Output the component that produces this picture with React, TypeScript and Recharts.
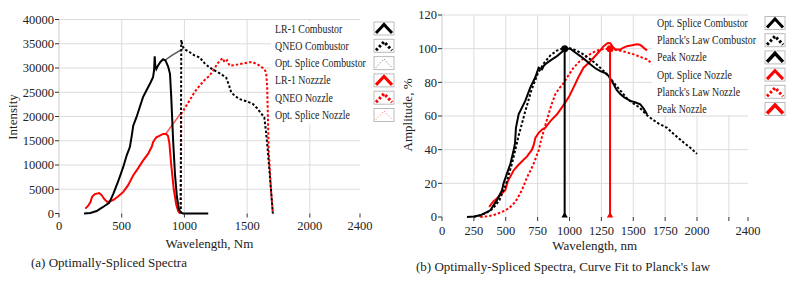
import React from 'react';
import { LineChart, Line, XAxis, YAxis, ReferenceLine } from 'recharts';

const FONT = "'Liberation Serif', 'Times New Roman', serif";
const TXT = '#222';
const GRID = '#dcdcdc';

// ---------- Chart (a): Optimally-Spliced Spectra ----------
const aXTicks = [0, 500, 1000, 1500, 2000, 2400];
const aYTicks = [0, 5000, 10000, 15000, 20000, 25000, 30000, 35000, 40000];
const aXGrid = [500, 1000, 1500, 2000];
const aYGrid = [5000, 10000, 15000, 20000, 25000, 30000, 35000, 40000];

const lr1Combustor = [
  [200, 0], [250, 100], [300, 500], [330, 1000], [360, 1500], [400, 2200], [432, 4000], [470, 6500],
  [511, 9500], [540, 12000], [565, 13700], [580, 16000], [592, 18100], [617, 19800], [645, 22000],
  [670, 24000], [700, 25500], [730, 27000], [750, 28100], [758, 29500], [763, 32400], [768, 30500],
  [776, 29800], [790, 30500], [810, 31300], [830, 31800], [850, 31500], [870, 30300], [885, 28800],
  [895, 24000], [910, 15000], [925, 8000], [940, 3500], [955, 1000], [970, 200], [990, 0], [1190, 0],
];
const qneoCombustor = [
  [970, 0], [975, 35800], [985, 34500], [1000, 33900], [1040, 33300], [1080, 32600], [1121, 32200],
  [1160, 31000], [1200, 30100], [1260, 29200], [1300, 28600], [1333, 28000], [1355, 26500],
  [1373, 25000], [1400, 24300], [1439, 23600], [1500, 23100], [1545, 22600], [1580, 21700],
  [1610, 20700], [1637, 19800], [1650, 17000], [1665, 13000], [1690, 5000], [1705, 0],
];
const optSpliceCombustorA = [[845, 31600], [900, 32600], [990, 34000]];
const lr1Nozzle = [
  [210, 1000], [230, 1500], [250, 2300], [265, 3500], [286, 4000], [320, 4200], [340, 3800],
  [360, 3000], [385, 2400], [410, 2500], [440, 2900], [470, 3500], [511, 4400], [550, 5800],
  [590, 7800], [630, 9300], [670, 10900], [710, 12300], [740, 13800], [750, 14700], [765, 15300],
  [776, 15700], [800, 16000], [830, 16400], [855, 16400], [869, 16000], [880, 14500], [895, 10000],
  [915, 5000], [935, 1800], [950, 500], [965, 0],
];
const qneoNozzle = [
  [970, 0], [975, 20500], [1000, 21600], [1041, 23300], [1080, 25000], [1121, 26350], [1160, 27500],
  [1200, 28400], [1230, 29500], [1254, 30500], [1280, 31500], [1306, 32000], [1320, 31200],
  [1340, 31600], [1360, 30500], [1400, 30600], [1439, 30800], [1480, 31000], [1520, 31200],
  [1545, 31200], [1570, 30900], [1598, 30500], [1637, 29800], [1652, 29000], [1660, 26000],
  [1672, 13000], [1690, 5000], [1705, 0],
];
const optSpliceNozzleA = [[850, 16400], [910, 18500], [975, 20800]];

// ---------- Chart (b): Curve fit to Planck's law ----------
const bXTicks = [0, 250, 500, 750, 1000, 1250, 1500, 1750, 2000, 2250, 2400];
const bYTicks = [0, 20, 40, 60, 80, 100, 120];
const bXGrid = [250, 500, 750, 1000, 1250, 1500, 1750, 2000, 2250];
const bYGrid = [20, 40, 60, 80, 100, 120];

const optSpliceCombustorB = [
  [196, 0], [250, 0.3], [300, 1], [340, 2.5], [379, 4], [431, 10], [470, 15.8], [483, 20], [510, 26],
  [536, 31.5], [560, 39], [573, 44], [580, 53], [601, 61], [653, 69], [693, 77], [732, 83],
  [758, 88.7], [784, 87.7], [800, 90], [824, 91.6], [860, 93.5], [902, 95.6], [940, 98], [967, 100],
  [1006, 100], [1040, 98], [1085, 95.6], [1120, 93.5], [1163, 90.7], [1200, 88.5], [1242, 86.7],
  [1280, 85.5], [1307, 83.8], [1330, 81], [1346, 78.9], [1370, 75.5], [1398, 73], [1430, 71],
  [1477, 69], [1520, 68], [1555, 67], [1580, 64.5], [1608, 61],
];
const planckCombustor = [
  [250, 0], [300, 1], [350, 2.5], [400, 5], [450, 10], [500, 19], [550, 32], [600, 48], [650, 62],
  [700, 75], [750, 85], [800, 91.5], [850, 96], [900, 98.8], [960, 100.5], [1000, 100.3],
  [1050, 99], [1100, 97], [1150, 94.5], [1200, 91.5], [1250, 88], [1300, 84.5], [1350, 79.5],
  [1400, 75], [1450, 70.5], [1500, 67.5], [1550, 65], [1600, 61], [1650, 58], [1700, 55.5],
  [1765, 53], [1817, 49.3], [1895, 44.3], [1950, 41], [2000, 37.5],
];
const peakCombustor = [[962, 0], [962, 100]];
const optSpliceNozzleB = [
  [370, 6], [400, 9], [430, 11], [457, 13], [497, 16], [515, 21], [536, 24], [560, 27.5], [588, 30],
  [620, 32.5], [667, 36], [706, 40], [720, 43], [732, 47], [758, 50], [785, 52], [810, 53],
  [850, 57], [902, 61], [935, 64.5], [967, 68], [1000, 72], [1032, 77], [1070, 83], [1110, 88.7],
  [1150, 91.5], [1189, 94.6], [1230, 98], [1268, 101.5], [1300, 103.4], [1320, 103.2], [1340, 101],
  [1359, 99.5], [1398, 99.5], [1420, 100.5], [1451, 101.5], [1490, 102], [1529, 102.6],
  [1550, 102.4], [1568, 101.5], [1590, 100], [1608, 99],
];
const planckNozzle = [
  [300, 0], [353, 0.4], [400, 1], [457, 2.6], [500, 4], [536, 6], [575, 9], [614, 14], [640, 18.5],
  [667, 23.6], [693, 27.5], [718, 31.5], [740, 36], [758, 39.4], [775, 45], [800, 52], [836, 61],
  [860, 67], [889, 73], [920, 76.5], [954, 79.5], [990, 84], [1032, 88.7], [1080, 92.5],
  [1137, 95.6], [1190, 98], [1242, 99.5], [1300, 100], [1350, 99.6], [1400, 98.8], [1450, 97.8],
  [1503, 96.6], [1550, 95.3], [1608, 93.6], [1650, 91], [1700, 88],
];
const peakNozzle = [[1318, 0], [1318, 100]];

const legendA = [
  { label: 'LR-1 Combustor', color: '#000', dash: '', w: 3 },
  { label: 'QNEO Combustor', color: '#000', dash: '2.5 2', w: 3 },
  { label: 'Opt. Splice Combustor', color: '#555', dash: '1 2', w: 1 },
  { label: 'LR-1 Nozzzle', color: '#f00', dash: '', w: 3 },
  { label: 'QNEO Nozzle', color: '#f00', dash: '2.5 2', w: 3 },
  { label: 'Opt. Splice Nozzle', color: '#f66', dash: '1 2', w: 1 },
];
const legendB = [
  { label: 'Opt. Splice Combustor', color: '#000', dash: '', w: 3 },
  { label: "Planck's Law Combustor", color: '#000', dash: '2.5 2', w: 3 },
  { label: 'Peak Nozzle', color: '#000', dash: '', w: 3.5 },
  { label: 'Opt. Splice Nozzle', color: '#f00', dash: '', w: 3 },
  { label: "Planck's Law Nozzle", color: '#f00', dash: '2.5 2', w: 3 },
  { label: 'Peak Nozzle', color: '#f00', dash: '', w: 3.5 },
];

const pts = (a: number[][]) => a.map(([x, y]) => ({ x, y }));

const XTick = (fmt?: (v: number) => string) => (props: any) => {
  const { x, y, payload } = props;
  const v = payload.value;
  return (
    <text x={x} y={y} dy="0.71em" textAnchor="middle" fontSize={12.5} fontFamily={FONT} fill={TXT}>
      {fmt ? fmt(v) : String(v)}
    </text>
  );
};
const YTick = (props: any) => {
  const { x, y, payload } = props;
  return (
    <text x={x} y={y} dy="0.35em" textAnchor="end" fontSize={12.5} fontFamily={FONT} fill={TXT}>
      {String(payload.value)}
    </text>
  );
};

const peakDot = (color: string) => (props: any) => {
  const { cx, cy, payload, index } = props;
  if (payload.y > 0) return <circle key={`d${index}`} cx={cx} cy={cy} r={3.5} fill={color} />;
  return <path key={`d${index}`} d={`M${cx - 3.2},${cy + 0.5} L${cx + 3.2},${cy + 0.5} L${cx},${cy - 5} Z`} fill={color} />;
};

const Legend = ({ items, x, iconX, y0, step }: any) => (
  <g>
    {items.map((it: any, i: number) => {
      const cy = y0 + i * step;
      return (
        <g key={i}>
          <text transform={`translate(${x},${cy + 4}) scale(0.86,1)`} fontSize={11.5} fontFamily={FONT} fill={TXT}>
            {it.label}
          </text>
          <rect x={iconX} y={cy - 6.5} width={20} height={13} fill="#fff" stroke="#bbb" strokeWidth={1} />
          <polyline
            points={`${iconX + 2},${cy + 4.5} ${iconX + 10},${cy - 4} ${iconX + 18},${cy + 4.5}`}
            fill="none"
            stroke={it.color}
            strokeWidth={it.w}
            strokeDasharray={it.dash || undefined}
          />
        </g>
      );
    })}
  </g>
);

export default function App() {
  return (
    <div style={{ position: 'absolute', left: 0, top: 0, width: 800, height: 290, background: '#fff', overflow: 'hidden', fontFamily: FONT }}>
      <div style={{ position: 'absolute', left: 0, top: 0 }}>
        <LineChart width={400} height={290} margin={{ top: 19.5, right: 40, bottom: 46.5, left: 0 }}>
          <XAxis
            dataKey="x" type="number" domain={[0, 2400]} ticks={aXTicks} interval={0} allowDataOverflow
            axisLine={false} tickLine={{ stroke: '#333' }} tickSize={4} tickMargin={4} tick={XTick()} height={30}
          />
          <YAxis
            type="number" domain={[0, 40000]} ticks={aYTicks} interval={0} width={59}
            axisLine={{ stroke: '#ccc' }} tickLine={{ stroke: '#333' }} tickSize={4} tickMargin={1} tick={YTick}
          />
          {aXGrid.map((v) => <ReferenceLine key={`gx${v}`} x={v} stroke={GRID} />)}
          {aYGrid.map((v) => <ReferenceLine key={`gy${v}`} y={v} stroke={GRID} />)}
          <Line id="osc" data={pts(optSpliceCombustorA)} dataKey="y" type="linear" stroke="#555" strokeWidth={1.5} dot={false} isAnimationActive={false} />
          <Line id="osn" data={pts(optSpliceNozzleA)} dataKey="y" type="linear" stroke="#f55" strokeWidth={1.5} dot={false} isAnimationActive={false} />
          <Line id="lr1n" data={pts(lr1Nozzle)} dataKey="y" type="linear" stroke="#f00" strokeWidth={2} dot={false} isAnimationActive={false} />
          <Line id="lr1c" data={pts(lr1Combustor)} dataKey="y" type="linear" stroke="#000" strokeWidth={2} dot={false} isAnimationActive={false} />
          <Line id="qn" data={pts(qneoNozzle)} dataKey="y" type="linear" stroke="#f00" strokeWidth={2} strokeDasharray="2.5 2" dot={false} isAnimationActive={false} />
          <Line id="qc" data={pts(qneoCombustor)} dataKey="y" type="linear" stroke="#000" strokeWidth={2} strokeDasharray="2.5 2" dot={false} isAnimationActive={false} />
        </LineChart>
      </div>
      <div style={{ position: 'absolute', left: 400, top: 0 }}>
        <LineChart width={400} height={290} margin={{ top: 15, right: 52, bottom: 43, left: 0 }}>
          <XAxis
            dataKey="x" type="number" domain={[0, 2400]} ticks={bXTicks} interval={0} allowDataOverflow
            axisLine={false} tickLine={{ stroke: '#333' }} tickSize={4} tickMargin={5} height={30}
            tick={XTick((v: number) => (v === 2250 ? '' : String(v)))}
          />
          <YAxis
            type="number" domain={[0, 120]} ticks={bYTicks} interval={0} width={42}
            axisLine={{ stroke: '#ccc' }} tickLine={{ stroke: '#333' }} tickSize={4} tickMargin={1} tick={YTick}
          />
          {bXGrid.map((v) => <ReferenceLine key={`gx${v}`} x={v} stroke={GRID} />)}
          {bYGrid.map((v) => <ReferenceLine key={`gy${v}`} y={v} stroke={GRID} />)}
          <Line id="pn" data={pts(planckNozzle)} dataKey="y" type="linear" stroke="#f00" strokeWidth={2} strokeDasharray="2.5 2" dot={false} isAnimationActive={false} />
          <Line id="onb" data={pts(optSpliceNozzleB)} dataKey="y" type="linear" stroke="#f00" strokeWidth={2} dot={false} isAnimationActive={false} />
          <Line id="pc" data={pts(planckCombustor)} dataKey="y" type="linear" stroke="#000" strokeWidth={2} strokeDasharray="2.5 2" dot={false} isAnimationActive={false} />
          <Line id="ocb" data={pts(optSpliceCombustorB)} dataKey="y" type="linear" stroke="#000" strokeWidth={2} dot={false} isAnimationActive={false} />
          <Line id="pkc" data={pts(peakCombustor)} dataKey="y" type="linear" stroke="#000" strokeWidth={2} dot={peakDot('#000')} isAnimationActive={false} />
          <Line id="pkn" data={pts(peakNozzle)} dataKey="y" type="linear" stroke="#f00" strokeWidth={2} dot={peakDot('#f00')} isAnimationActive={false} />
        </LineChart>
      </div>
      <svg width={800} height={290} style={{ position: 'absolute', left: 0, top: 0, pointerEvents: 'none' }}>
        <rect x={271} y={21.5} width={129} height={102} fill="#fff" />
        <Legend items={legendA} x={275} iconX={374} y0={28.5} step={17.3} />
        <rect x={652} y={16} width={148} height={99} fill="#fff" />
        <Legend items={legendB} x={657} iconX={765} y0={23} step={17.2} />
        <text transform="translate(16.5,117) rotate(-90)" textAnchor="middle" fontSize={13} fontFamily={FONT} fill={TXT}>Intensity</text>
        <text transform="translate(412,115) rotate(-90)" textAnchor="middle" fontSize={13} fontFamily={FONT} fill={TXT}>Amplitude, %</text>
        <text x={209.5} y={248} textAnchor="middle" fontSize={13} fontFamily={FONT} fill={TXT}>Wavelength, Nm</text>
        <text x={594.7} y={250} textAnchor="middle" fontSize={13} fontFamily={FONT} fill={TXT}>Wavelength, nm</text>
        <text x={31} y={266.5} fontSize={13} fontFamily={FONT} fill={TXT}>(a) Optimally-Spliced Spectra</text>
        <text x={416} y={270.5} fontSize={13} fontFamily={FONT} fill={TXT}>(b) Optimally-Spliced Spectra, Curve Fit to Planck's law</text>
      </svg>
    </div>
  );
}
